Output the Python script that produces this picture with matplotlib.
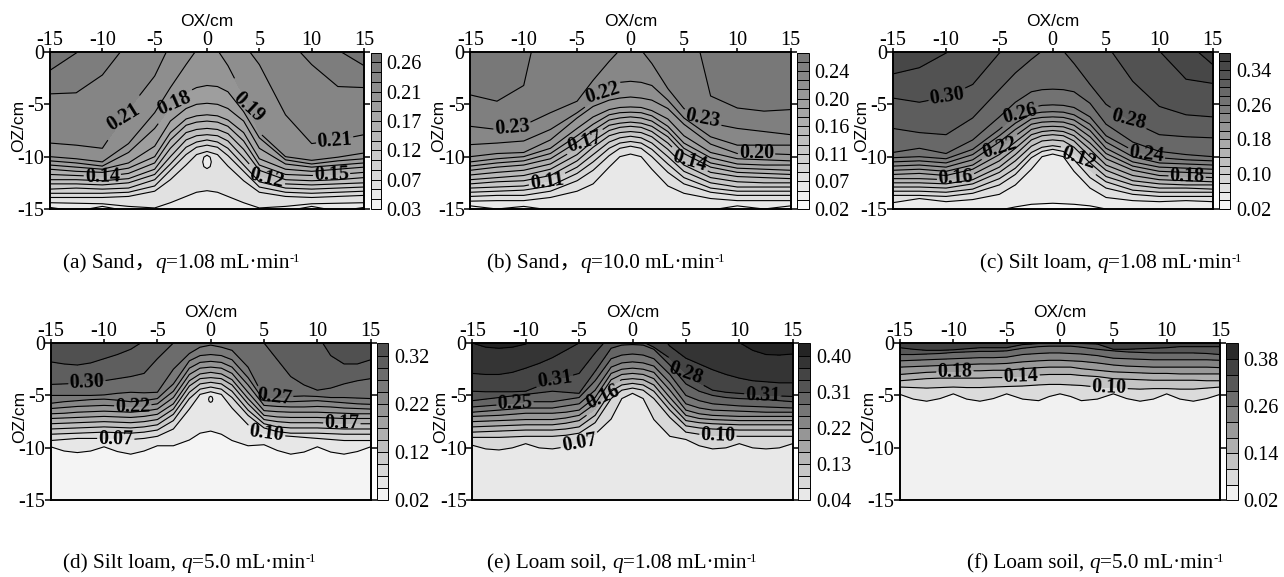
import matplotlib
matplotlib.use('Agg')
import numpy as np
import matplotlib.pyplot as plt
from matplotlib.colors import LinearSegmentedColormap, Normalize
from matplotlib.ticker import FixedFormatter

plt.rcParams['font.family'] = ['Liberation Serif', 'Noto Sans CJK SC']

W, H = 1284, 577

# stations along OX, every depth row below has one value per station
X_STATIONS = [-15, -12.5, -10, -7.5, -5, -3.5, -2, -1, 0, 1, 2, 3.5, 5, 7.5, 10, 12.5, 15]
# the lower panels have scalloped lines and need a closer spacing
X_FINE = [-15, -13.75, -12.5, -11.25, -10, -8.75, -7.5, -6.25, -5, -3.5, -2, -1, 0, 1, 2, 3.5, 5, 6.25, 7.5, 8.75, 10, 11.25, 12.5, 13.75, 15]
X_TICKS = [-15, -10, -5, 0, 5, 10, 15]
X_TICK_LABELS = ['-15', '-10', '-5', '0', '5', '10', '15']
Z_TICKS = [0, -5, -10, -15]
Z_TICK_LABELS = ['0', '-5', '-10', '-15']

# contour depth (cm), top line first. values above 0 or
# below -15 are lines that have left the frame at that station
LEVELS_A = [0.03, 0.045, 0.061, 0.076, 0.091, 0.107, 0.122, 0.137, 0.153, 0.168, 0.183, 0.199, 0.214, 0.229, 0.245, 0.26, 0.275]
DEPTH_A = [
    [-1.75, -0.1, 2, 3, 3, 3, 3, 3, 3, 3, 3, 3, 3, 3, 2, 0.2, -1.3],
    [-4.0, -3.9, -2.2, 1.0, 2, 2, 2, 2, 2, 2, 2, 2, 2, 1.5, -1.2, -3.3, -3.4],
    [-8.7, -8.9, -9.2, -5.5, -2.3, 0.8, 1.2, 1.2, 1.2, 1.2, 1.2, 0.8, -1.2, -6.0, -8.75, -8.4, -7.9],
    [-10.0, -10.2, -10.5, -8.75, -5.8, -3.4, -1.2, 0.2, 0.7, 0.2, -1.3, -4.2, -7.7, -10.0, -10.35, -10.05, -9.65],
    [-10.4, -10.6, -10.9, -9.6, -7.3, -5.3, -3.9, -3.4, -3.2, -3.3, -3.8, -5.7, -8.2, -10.3, -10.7, -10.4, -10.2],
    [-10.8, -11.0, -11.2, -10.6, -9.0, -6.6, -5.4, -5.0, -4.9, -5.0, -5.4, -6.6, -9.2, -10.7, -11.0, -10.8, -10.6],
    [-11.2, -11.4, -11.5, -11.1, -10.0, -7.7, -6.4, -6.1, -6.0, -6.1, -6.5, -7.7, -10.2, -11.2, -11.4, -11.2, -11.0],
    [-11.7, -11.8, -11.9, -11.6, -10.6, -8.4, -7.0, -6.7, -6.6, -6.7, -7.1, -8.5, -10.8, -11.7, -11.8, -11.7, -11.5],
    [-12.2, -12.2, -12.3, -12.1, -11.2, -9.2, -7.7, -7.4, -7.3, -7.4, -7.8, -9.3, -11.3, -12.2, -12.3, -12.2, -12.0],
    [-12.6, -12.6, -12.7, -12.5, -11.7, -10.0, -8.4, -8.0, -7.9, -8.0, -8.5, -10.1, -11.8, -12.6, -12.7, -12.6, -12.5],
    [-13.1, -13.0, -13.1, -13.0, -12.2, -10.7, -9.1, -8.6, -8.4, -8.6, -9.2, -10.8, -12.4, -13.0, -13.1, -13.0, -12.9],
    [-13.5, -13.5, -13.5, -13.4, -12.8, -11.3, -9.8, -9.1, -8.9, -9.1, -9.9, -11.4, -12.9, -13.4, -13.5, -13.4, -13.3],
    [-13.9, -13.9, -13.9, -13.8, -13.3, -12.2, -10.8, -9.8, -9.5, -9.8, -10.9, -12.3, -13.4, -13.8, -13.9, -13.8, -13.7],
    [-14.4, -14.45, -14.5, -14.75, -14.9, -14.4, -13.8, -13.4, -13.25, -13.4, -13.8, -14.4, -14.9, -14.75, -14.5, -14.45, -14.4],
    [-14.85, -15.2, -14.75, -15.2, -15.3, -15.4, -15.4, -15.4, -15.4, -15.4, -15.4, -15.4, -15.3, -15.2, -14.75, -15.2, -14.85],
]
BUBBLE_A_X = [0, 0.3, 0.41, 0.3, 0, -0.3, -0.41, -0.3]
BUBBLE_A_Z = [-9.86, -10.05, -10.5, -10.95, -11.14, -10.95, -10.5, -10.05]
BUBBLE_A_VALUE = 0.045
CB_TICKS_A = ['0.03', '0.07', '0.12', '0.17', '0.21', '0.26']
LABEL_X_A = [-8.0, -3.05, 4.1, 12.2, -10.0, 5.7, 11.9]
LABEL_Z_A = [-6.15, -5.2, -4.9, -8.6, -12.0, -11.9, -11.7]
LABEL_TEXT_A = ['0.21', '0.18', '0.19', '0.21', '0.14', '0.12', '0.15']

LEVELS_B = [0.02, 0.035, 0.049, 0.064, 0.079, 0.093, 0.108, 0.123, 0.137, 0.152, 0.167, 0.181, 0.196, 0.211, 0.225, 0.24, 0.255, 0.269]
DEPTH_B = [
    [-4.1, -4.7, -3.2, 8, 9, 9, 9, 9, 9, 9, 9, 9, 6.3, -4.2, -5.35, -5.65, -5.5],
    [-7.1, -7.4, -7.0, -5.8, -4.7, -2.7, -0.9, 0.2, 1, 0.2, -1.1, -3.5, -5.4, -6.8, -7.3, -7.6, -7.9],
    [-8.85, -8.7, -8.5, -7.4, -5.8, -4.7, -3.3, -2.9, -2.8, -2.9, -3.2, -4.6, -6.3, -8.1, -8.9, -8.9, -8.9],
    [-10.0, -9.7, -9.6, -8.4, -6.3, -5.2, -4.6, -4.4, -4.3, -4.4, -4.6, -5.4, -6.9, -8.8, -9.7, -9.7, -9.8],
    [-10.5, -10.2, -10.0, -9.2, -7.3, -6.2, -5.5, -5.3, -5.25, -5.3, -5.6, -6.4, -8.0, -9.6, -10.2, -10.3, -10.4],
    [-10.9, -10.6, -10.4, -9.7, -8.0, -6.9, -6.0, -5.8, -5.75, -5.8, -6.1, -7.1, -8.7, -10.1, -10.7, -10.8, -10.8],
    [-11.3, -11.0, -10.8, -10.2, -8.6, -7.5, -6.5, -6.3, -6.2, -6.3, -6.6, -7.6, -9.2, -10.6, -11.1, -11.2, -11.3],
    [-11.75, -11.5, -11.3, -10.7, -9.2, -8.0, -7.0, -6.8, -6.7, -6.8, -7.1, -8.1, -9.7, -11.0, -11.5, -11.6, -11.7],
    [-12.2, -12.0, -11.8, -11.2, -9.8, -8.5, -7.5, -7.2, -7.1, -7.2, -7.6, -8.7, -10.2, -11.5, -11.9, -12.0, -12.1],
    [-12.6, -12.4, -12.3, -11.8, -10.4, -9.1, -8.0, -7.7, -7.6, -7.7, -8.1, -9.3, -10.8, -12.0, -12.4, -12.5, -12.5],
    [-13.0, -12.9, -12.8, -12.3, -11.0, -9.8, -8.6, -8.2, -8.05, -8.2, -8.7, -10.0, -11.4, -12.5, -12.9, -12.9, -12.9],
    [-13.4, -13.3, -13.2, -12.8, -11.6, -10.5, -9.2, -8.7, -8.55, -8.7, -9.3, -10.7, -12.0, -13.0, -13.3, -13.3, -13.3],
    [-13.8, -13.7, -13.7, -13.3, -12.3, -11.3, -9.9, -9.2, -9.0, -9.2, -10.0, -11.5, -12.6, -13.4, -13.7, -13.7, -13.7],
    [-14.25, -14.2, -14.2, -13.9, -13.3, -12.6, -11.0, -10.0, -9.75, -10.0, -11.2, -12.8, -13.5, -14.0, -14.2, -14.2, -14.2],
    [-14.7, -15.0, -14.75, -15.1, -15.3, -15.4, -15.5, -15.5, -15.5, -15.5, -15.5, -15.4, -15.3, -15.1, -14.7, -15.0, -14.7],
    [-15.7, -15.7, -15.7, -15.7, -15.7, -15.7, -15.7, -15.7, -15.7, -15.7, -15.7, -15.7, -15.7, -15.7, -15.7, -15.7, -15.7],
]
CB_TICKS_B = ['0.02', '0.07', '0.11', '0.16', '0.20', '0.24']
LABEL_X_B = [-11.1, -2.6, -4.3, -7.8, 6.8, 5.5, 11.8]
LABEL_Z_B = [-7.1, -4.1, -8.4, -12.5, -6.3, -10.7, -9.7]
LABEL_TEXT_B = ['0.23', '0.22', '0.17', '0.11', '0.23', '0.14', '0.20']

LEVELS_C = [0.02, 0.04, 0.06, 0.08, 0.10, 0.12, 0.14, 0.16, 0.18, 0.20, 0.22, 0.24, 0.26, 0.28, 0.30, 0.32, 0.34, 0.36, 0.38]
DEPTH_C = [
    [3, 3, 3, 3, 3, 3, 3, 3, 3, 3, 3, 3, 3, 3, 3, 1, -1.2],
    [-2.1, -1.5, -0.1, 2, 2, 2, 2, 2, 2, 2, 2, 2, 2, 2, 0.1, -2.6, -3.0],
    [-4.4, -4.8, -4.3, -3.1, -0.1, 1, 1, 1, 1, 1, 1, 1, 0.8, -2.8, -5.2, -6.0, -6.2],
    [-7.3, -7.7, -7.9, -6.3, -3.6, -2.0, -0.7, 0.1, 0.5, 0.1, -1.1, -3.1, -5.0, -6.7, -7.9, -8.1, -8.2],
    [-9.6, -9.2, -9.7, -8.4, -6.2, -4.8, -3.8, -3.6, -3.55, -3.6, -3.8, -4.9, -6.9, -8.6, -9.5, -9.8, -10.0],
    [-10.1, -10.0, -10.2, -9.3, -7.4, -6.1, -5.3, -5.1, -5.05, -5.1, -5.3, -6.2, -8.0, -9.4, -10.1, -10.3, -10.4],
    [-10.5, -10.4, -10.6, -9.8, -8.0, -6.8, -5.9, -5.75, -5.7, -5.75, -6.0, -6.9, -8.6, -10.0, -10.6, -10.7, -10.8],
    [-10.9, -10.8, -11.0, -10.3, -8.6, -7.4, -6.4, -6.25, -6.2, -6.25, -6.5, -7.5, -9.2, -10.5, -11.0, -11.1, -11.2],
    [-11.3, -11.2, -11.4, -10.8, -9.2, -8.0, -6.9, -6.7, -6.65, -6.7, -7.0, -8.1, -9.7, -10.9, -11.4, -11.5, -11.6],
    [-11.7, -11.6, -11.8, -11.2, -9.8, -8.6, -7.4, -7.15, -7.1, -7.15, -7.5, -8.7, -10.2, -11.3, -11.8, -11.9, -12.0],
    [-12.1, -12.1, -12.2, -11.7, -10.4, -9.2, -7.9, -7.6, -7.5, -7.6, -8.0, -9.3, -10.8, -11.8, -12.2, -12.3, -12.4],
    [-12.5, -12.5, -12.6, -12.2, -11.0, -9.8, -8.4, -8.0, -7.9, -8.0, -8.5, -10.0, -11.3, -12.3, -12.6, -12.7, -12.7],
    [-12.9, -12.9, -13.0, -12.6, -11.5, -10.4, -9.0, -8.5, -8.4, -8.5, -9.1, -10.6, -11.9, -12.7, -13.0, -13.0, -13.1],
    [-13.3, -13.3, -13.4, -13.1, -12.1, -11.1, -9.6, -9.1, -8.95, -9.1, -9.7, -11.3, -12.4, -13.2, -13.4, -13.4, -13.4],
    [-13.7, -13.7, -13.8, -13.5, -12.7, -11.7, -10.1, -9.5, -9.3, -9.5, -10.3, -12.0, -13.0, -13.6, -13.8, -13.8, -13.8],
    [-14.4, -14.0, -14.3, -14.1, -13.6, -12.7, -11.2, -10.0, -9.75, -10.0, -11.4, -13.0, -13.9, -14.2, -14.3, -14.2, -14.3],
    [-15.3, -15.3, -15.3, -15.3, -15.1, -14.8, -14.55, -14.5, -14.45, -14.5, -14.55, -14.7, -15.0, -15.3, -15.3, -15.3, -15.3],
]
CB_TICKS_C = ['0.02', '0.10', '0.18', '0.26', '0.34']
LABEL_X_C = [-9.9, -3.1, -5.0, -9.1, 7.2, 8.8, 2.4, 12.6]
LABEL_Z_C = [-4.3, -5.45, -9.0, -12.2, -5.6, -9.65, -10.35, -11.8]
LABEL_TEXT_C = ['0.30', '0.26', '0.22', '0.16', '0.28', '0.24', '0.12', '0.18']

LEVELS_D = [0.02, 0.045, 0.07, 0.095, 0.12, 0.145, 0.17, 0.195, 0.22, 0.245, 0.27, 0.295, 0.32, 0.345]
DEPTH_D = [
    [-1.8, -2.0, -2.1, -1.9, -1.5, -1.1, -0.6, 0.2, 1, 3, 3, 3, 3, 3, 3, 3, 3, 2.5, 1.0, 0.8, 0.8, -1.2, -2.0, -2.0, -1.6],
    [-3.95, -3.9, -3.85, -3.75, -3.6, -3.4, -3.2, -2.9, -1.5, 0, 1, 1.5, 2, 1.5, 1, 0.7, 0, -1.6, -3.2, -4.0, -4.5, -4.3, -3.9, -3.6, -3.4],
    [-5.0, -5.0, -5.0, -5.0, -4.95, -4.8, -4.7, -4.75, -4.7, -2.5, -1.0, -0.4, -0.2, -0.4, -0.7, -2.3, -5.2, -5.2, -5.1, -5.05, -5.1, -5.2, -5.2, -5.25, -5.3],
    [-5.75, -5.6, -5.5, -5.4, -5.35, -5.45, -5.6, -5.5, -5.3, -3.9, -1.7, -1.2, -1.1, -1.2, -1.6, -3.3, -5.5, -5.55, -5.6, -5.55, -5.5, -5.6, -5.7, -5.8, -5.85],
    [-6.25, -6.15, -6.05, -6.0, -5.95, -6.0, -6.1, -6.0, -5.8, -4.6, -2.4, -1.85, -1.75, -1.85, -2.3, -4.0, -5.95, -6.05, -6.1, -6.1, -6.05, -6.1, -6.2, -6.25, -6.3],
    [-6.75, -6.7, -6.6, -6.55, -6.5, -6.55, -6.6, -6.5, -6.3, -5.2, -3.0, -2.4, -2.3, -2.4, -2.9, -4.7, -6.45, -6.55, -6.6, -6.6, -6.6, -6.65, -6.7, -6.75, -6.75],
    [-7.2, -7.15, -7.1, -7.05, -7.0, -7.05, -7.1, -7.0, -6.8, -5.8, -3.6, -2.95, -2.8, -2.95, -3.5, -5.3, -6.9, -7.05, -7.1, -7.1, -7.1, -7.15, -7.2, -7.2, -7.2],
    [-7.7, -7.65, -7.6, -7.55, -7.5, -7.55, -7.6, -7.5, -7.3, -6.3, -4.1, -3.4, -3.3, -3.4, -4.0, -5.8, -7.3, -7.5, -7.6, -7.6, -7.6, -7.65, -7.7, -7.7, -7.7],
    [-8.2, -8.15, -8.1, -8.05, -8.0, -8.05, -8.1, -8.0, -7.8, -6.8, -4.7, -3.9, -3.75, -3.9, -4.6, -6.4, -7.7, -8.0, -8.1, -8.1, -8.1, -8.15, -8.2, -8.2, -8.2],
    [-8.7, -8.65, -8.6, -8.55, -8.5, -8.55, -8.6, -8.5, -8.3, -7.4, -5.3, -4.4, -4.2, -4.4, -5.2, -6.9, -8.1, -8.45, -8.6, -8.6, -8.6, -8.65, -8.7, -8.7, -8.7],
    [-9.3, -9.2, -9.1, -9.1, -9.1, -9.15, -9.2, -9.1, -8.9, -8.2, -6.3, -4.9, -4.65, -4.9, -6.2, -7.8, -8.6, -8.8, -8.9, -9.0, -9.1, -9.2, -9.3, -9.3, -9.3],
    [-9.9, -10.3, -10.45, -10.3, -9.9, -10.35, -10.6, -10.3, -9.8, -9.8, -9.25, -8.6, -8.4, -8.7, -9.3, -9.8, -9.7, -10.25, -10.6, -10.4, -9.9, -10.4, -10.6, -10.35, -9.9],
]
BUBBLE_D_X = [0, 0.14, 0.2, 0.14, 0, -0.14, -0.2, -0.14]
BUBBLE_D_Z = [-5.08, -5.16, -5.37, -5.58, -5.66, -5.58, -5.37, -5.16]
BUBBLE_D_VALUE = 0.057
CB_TICKS_D = ['0.02', '0.12', '0.22', '0.32']
LABEL_X_D = [-11.6, -7.3, -8.9, 6.0, 5.25, 12.3]
LABEL_Z_D = [-4.0, -6.2, -9.55, -3.4, -8.45, -7.45]
LABEL_TEXT_D = ['0.30', '0.22', '0.07', '0.27', '0.10', '0.17']

LEVELS_E = [0.04, 0.07, 0.10, 0.13, 0.16, 0.19, 0.22, 0.25, 0.28, 0.31, 0.34, 0.37, 0.40, 0.43]
DEPTH_E = [
    [0.0, -0.4, -0.5, -0.4, -0.1, 0.7, 1.5, 2, 3, 3, 3, 3, 3, 3, 3, 3, 3, 2, 1.5, 0.7, 0.05, -0.7, -1.1, -1.15, -1.05],
    [-2.9, -3.0, -3.0, -2.8, -2.4, -1.95, -1.4, -0.7, 0, 1.5, 2, 2, 2, 2, 1.5, -0.3, -1.45, -2.0, -2.55, -3.0, -3.35, -3.6, -3.7, -3.8, -3.8],
    [-4.6, -4.65, -4.65, -4.65, -4.6, -4.1, -3.5, -3.25, -2.9, -0.95, 0.8, 0.8, 0.5, 0.1, -0.4, -1.45, -2.9, -3.8, -4.5, -4.7, -4.8, -4.9, -5.0, -5.05, -5.1],
    [-5.5, -5.35, -5.2, -5.05, -4.9, -4.75, -4.6, -4.7, -4.8, -2.7, -0.5, -0.2, -0.15, -0.2, -0.6, -2.1, -3.9, -4.6, -5.0, -5.2, -5.3, -5.35, -5.4, -5.5, -5.6],
    [-6.1, -6.0, -5.9, -5.75, -5.6, -5.6, -5.6, -5.4, -5.2, -3.6, -1.5, -1.15, -1.05, -1.15, -1.5, -3.0, -5.0, -5.5, -5.8, -5.9, -6.0, -6.05, -6.1, -6.15, -6.2],
    [-6.6, -6.5, -6.4, -6.3, -6.2, -6.2, -6.2, -6.0, -5.8, -4.5, -2.3, -1.9, -1.8, -1.9, -2.2, -3.8, -5.8, -6.2, -6.4, -6.45, -6.5, -6.55, -6.6, -6.6, -6.6],
    [-7.0, -6.95, -6.9, -6.8, -6.7, -6.7, -6.7, -6.6, -6.4, -5.2, -2.9, -2.5, -2.4, -2.5, -2.8, -4.5, -6.4, -6.75, -6.9, -6.95, -7.0, -7.0, -7.0, -7.0, -7.0],
    [-7.5, -7.45, -7.4, -7.35, -7.3, -7.3, -7.3, -7.15, -6.9, -5.8, -3.5, -3.0, -2.9, -3.0, -3.4, -5.2, -6.9, -7.2, -7.3, -7.35, -7.4, -7.4, -7.4, -7.4, -7.4],
    [-8.0, -7.95, -7.9, -7.85, -7.8, -7.8, -7.8, -7.65, -7.4, -6.3, -4.0, -3.5, -3.4, -3.5, -4.0, -5.8, -7.4, -7.6, -7.7, -7.75, -7.8, -7.8, -7.8, -7.8, -7.8],
    [-8.5, -8.45, -8.4, -8.35, -8.3, -8.3, -8.3, -8.2, -8.0, -6.9, -4.6, -4.0, -3.85, -4.0, -4.6, -6.4, -7.9, -8.1, -8.2, -8.25, -8.3, -8.3, -8.3, -8.3, -8.3],
    [-9.0, -9.0, -9.0, -8.95, -8.9, -8.9, -8.9, -8.8, -8.6, -7.6, -5.3, -4.5, -4.3, -4.5, -5.3, -7.1, -8.5, -8.7, -8.8, -8.85, -8.9, -8.9, -8.9, -8.9, -8.9],
    [-9.75, -10.1, -10.2, -10.0, -9.6, -10.0, -10.1, -9.9, -9.5, -8.7, -7.25, -5.3, -4.8, -5.3, -7.3, -8.9, -9.2, -9.8, -10.1, -10.0, -9.6, -10.0, -10.1, -10.0, -9.6],
]
CB_TICKS_E = ['0.04', '0.13', '0.22', '0.31', '0.40']
LABEL_X_E = [-7.3, -11.0, -2.7, -5.0, 5.0, 12.2, 8.0]
LABEL_Z_E = [-3.2, -6.0, -5.3, -9.5, -2.9, -5.0, -8.9]
LABEL_TEXT_E = ['0.31', '0.25', '0.16', '0.07', '0.28', '0.31', '0.10']

LEVELS_F = [0.02, 0.06, 0.10, 0.14, 0.18, 0.22, 0.26, 0.30, 0.34, 0.38, 0.42]
DEPTH_F = [
    [0.5, 0.5, 0.5, 0.5, 0.5, 0.5, 0.5, 0.5, 0.5, 0.5, 0.5, 0.5, 0.5, 0.5, 0.5, 0.5, 0.5, 0.5, 0.5, 0.5, 0.5, 0.5, 0.5, 0.5, 0.5],
    [-0.45, -0.6, -0.7, -0.7, -0.65, -0.55, -0.45, -0.45, -0.45, -0.15, -0.05, -0.05, -0.05, -0.05, -0.05, -0.1, -0.6, -0.6, -0.55, -0.5, -0.45, -0.35, -0.35, -0.35, -0.35],
    [-1.1, -1.1, -1.05, -1.0, -0.9, -0.85, -0.8, -0.8, -0.75, -0.5, -0.35, -0.3, -0.3, -0.3, -0.4, -0.6, -0.75, -0.85, -0.9, -0.95, -0.95, -0.95, -0.95, -1.0, -1.1],
    [-1.7, -1.65, -1.6, -1.55, -1.5, -1.45, -1.4, -1.4, -1.35, -1.1, -1.0, -0.95, -0.95, -1.0, -1.05, -1.2, -1.45, -1.5, -1.55, -1.6, -1.6, -1.6, -1.6, -1.6, -1.65],
    [-2.3, -2.25, -2.2, -2.15, -2.1, -2.05, -2.0, -2.0, -1.95, -1.8, -1.7, -1.65, -1.65, -1.7, -1.75, -1.9, -2.1, -2.2, -2.25, -2.3, -2.3, -2.3, -2.3, -2.3, -2.35],
    [-3.0, -2.9, -2.8, -2.75, -2.7, -2.65, -2.65, -2.6, -2.6, -2.45, -2.35, -2.3, -2.3, -2.3, -2.45, -2.6, -2.75, -2.8, -2.85, -2.9, -2.9, -2.95, -2.95, -2.95, -2.95],
    [-3.6, -3.5, -3.4, -3.35, -3.35, -3.35, -3.35, -3.3, -3.3, -3.15, -3.05, -3.0, -3.0, -3.0, -3.1, -3.2, -3.4, -3.45, -3.5, -3.55, -3.55, -3.55, -3.55, -3.6, -3.6],
    [-4.2, -4.25, -4.3, -4.25, -4.2, -4.25, -4.25, -4.2, -4.15, -4.1, -4.0, -3.95, -3.95, -4.0, -4.05, -4.2, -4.25, -4.35, -4.4, -4.35, -4.35, -4.4, -4.4, -4.3, -4.2],
    [-4.9, -5.35, -5.55, -5.3, -4.85, -5.35, -5.55, -5.3, -4.85, -5.35, -5.5, -5.1, -4.85, -5.1, -5.5, -5.35, -4.85, -5.3, -5.55, -5.35, -4.85, -5.35, -5.55, -5.3, -4.9],
]
CB_TICKS_F = ['0.02', '0.14', '0.26', '0.38']
LABEL_X_F = [-9.85, -3.65, 4.6]
LABEL_Z_F = [-2.8, -3.4, -4.3]
LABEL_TEXT_F = ['0.18', '0.14', '0.10']

CAPTION_A = ['(a) Sand，', '1.08']
CAPTION_B = ['(b) Sand，', '10.0']
CAPTION_C = ['(c) Silt loam, ', '1.08']
CAPTION_D = ['(d) Silt loam, ', '5.0']
CAPTION_E = ['(e) Loam soil, ', '1.08']
CAPTION_F = ['(f) Loam soil, ', '5.0']

cmap = LinearSegmentedColormap.from_list('soil', ['0.985', '0.13'])
norm = Normalize(0.02, 0.42)

fig = plt.figure(figsize=(W / 100, H / 100), dpi=100)


def px_axes(x0, y0, x1, y1):
    return fig.add_axes([x0 / W, 1 - y1 / H, (x1 - x0) / W, (y1 - y0) / H])


def panel(box, cb_box, x_st, levels, depth, cb_step, cb_labels, lx, lz, ltext, bubble=None):
    ax = px_axes(*box)
    depth = np.array(depth, dtype=float)
    n_col = depth.shape[1]
    # rows off the frame close the top and bottom bands
    yy = np.vstack([np.full(n_col, 12.0), depth, np.full(n_col, -22.0)])
    xx = np.tile(x_st, (yy.shape[0], 1))
    zz = np.tile(np.array(levels[::-1])[:, None], (1, n_col))

    cf = ax.contourf(xx, yy, zz, levels=levels, cmap=cmap, norm=norm)
    cs = ax.contour(xx, yy, zz, levels=levels[1:-1], colors='k', linewidths=0.8)
    if bubble is not None:
        ax.fill(bubble[0], bubble[1], facecolor=cmap(norm(bubble[2])), edgecolor='k', linewidth=0.8, zorder=2)

    texts = ax.clabel(cs, manual=list(zip(lx, lz)), inline=True, fontsize=14.5, fmt='%.2f', inline_spacing=1)
    for t, s in zip(texts, ltext):
        t.set_text(s)
        t.set_fontweight('bold')

    ax.set_xlim(-15, 15)
    ax.set_ylim(-15, 0)
    ax.xaxis.tick_top()
    ax.set_xticks(X_TICKS)
    ax.set_xticklabels(X_TICK_LABELS, fontsize=14.5)
    ax.set_yticks(Z_TICKS)
    ax.set_yticklabels(Z_TICK_LABELS, fontsize=14.5)
    ax.tick_params(axis='x', length=3, width=1.1, pad=-1.5, top=True, bottom=False)
    ax.tick_params(axis='y', length=4, width=1.1, pad=0, left=True, right=True)
    ax.xaxis.set_label_position('top')
    ax.set_xlabel('OX/cm', family='Liberation Sans', fontsize=12.5, labelpad=3.5)
    ax.set_ylabel('OZ/cm', family='Liberation Sans', fontsize=12.5)
    ax.yaxis.set_label_coords(-24 / (box[2] - box[0]), 0.53)
    for s in ax.spines.values():
        s.set_linewidth(1.4)

    cax = px_axes(*cb_box)
    cb = fig.colorbar(cf, cax=cax, drawedges=True)
    cb.set_ticks(levels[::cb_step])
    # the colorbar resets its formatter on draw, so hand it over this way
    cb.formatter = FixedFormatter(cb_labels)
    cb.update_ticks()
    cb.ax.tick_params(length=0, pad=4, labelsize=14.5)
    cb.outline.set_linewidth(0.7)
    cb.dividers.set_linewidth(0.7)
    return ax


def caption(x, y, part):
    # text pieces laid end to end so q can be italic and -1 raised
    rend = fig.canvas.get_renderer()
    pieces = [(part[0], 'normal', 15.3, 0), ('q', 'italic', 15.3, 0), ('=' + part[1] + ' mL·min', 'normal', 15.3, 0), ('-1', 'normal', 9, 6)]
    for s, style, size, dy in pieces:
        t = fig.text(x / W, 1 - (y - dy) / H, s, style=style, fontsize=size, va='baseline', ha='left')
        x = t.get_window_extent(rend).x1


panel((50, 52, 364, 209), (370.5, 52.5, 381, 209), X_STATIONS, LEVELS_A, DEPTH_A, 3, CB_TICKS_A, LABEL_X_A, LABEL_Z_A, LABEL_TEXT_A,
      (BUBBLE_A_X, BUBBLE_A_Z, BUBBLE_A_VALUE))
panel((470.3, 52, 790.7, 209), (797, 52.5, 808.5, 209), X_STATIONS, LEVELS_B, DEPTH_B, 3, CB_TICKS_B, LABEL_X_B, LABEL_Z_B, LABEL_TEXT_B)
panel((892.7, 52, 1212.7, 209), (1218.7, 52.5, 1230.3, 209), X_STATIONS, LEVELS_C, DEPTH_C, 4, CB_TICKS_C, LABEL_X_C, LABEL_Z_C, LABEL_TEXT_C)
panel((50.7, 343, 370.7, 500.3), (376.7, 343.5, 388.3, 500.3), X_FINE, LEVELS_D, DEPTH_D, 4, CB_TICKS_D, LABEL_X_D, LABEL_Z_D, LABEL_TEXT_D,
      (BUBBLE_D_X, BUBBLE_D_Z, BUBBLE_D_VALUE))
panel((472.3, 343, 792.7, 500.3), (798.3, 343.5, 810.3, 500.3), X_FINE, LEVELS_E, DEPTH_E, 3, CB_TICKS_E, LABEL_X_E, LABEL_Z_E, LABEL_TEXT_E)
panel((900, 343, 1220, 500.3), (1226, 343.5, 1237.7, 500.3), X_FINE, LEVELS_F, DEPTH_F, 3, CB_TICKS_F, LABEL_X_F, LABEL_Z_F, LABEL_TEXT_F)

caption(63, 268, CAPTION_A)
caption(487, 268, CAPTION_B)
caption(980, 268, CAPTION_C)
caption(63, 568, CAPTION_D)
caption(487, 568, CAPTION_E)
caption(967, 568, CAPTION_F)

fig.savefig('out.png', dpi=100)
